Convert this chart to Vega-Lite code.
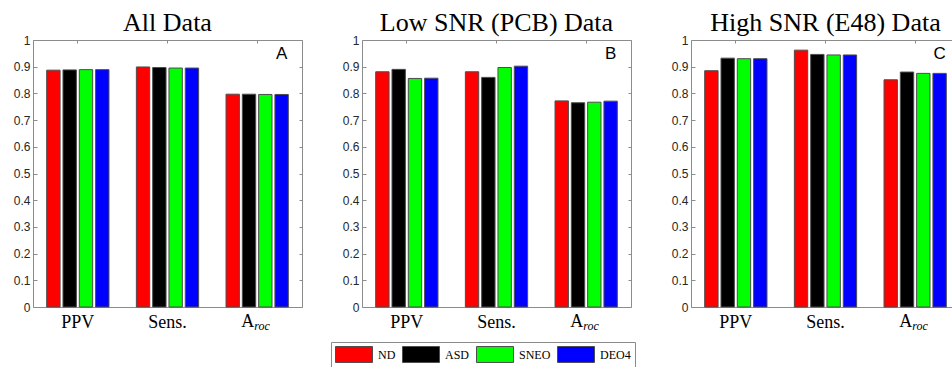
{
  "$schema": "https://vega.github.io/schema/vega-lite/v6.json",
  "padding": {"left": 5, "top": 9, "right": 0, "bottom": 0},
  "background": "white",
  "datasets": {
    "scores": [
      {"panel": "A", "metric": "PPV", "method": "ND", "value": 0.887},
      {"panel": "A", "metric": "PPV", "method": "ASD", "value": 0.888},
      {"panel": "A", "metric": "PPV", "method": "SNEO", "value": 0.889},
      {"panel": "A", "metric": "PPV", "method": "DEO4", "value": 0.889},
      {"panel": "A", "metric": "Sens.", "method": "ND", "value": 0.899},
      {"panel": "A", "metric": "Sens.", "method": "ASD", "value": 0.897},
      {"panel": "A", "metric": "Sens.", "method": "SNEO", "value": 0.895},
      {"panel": "A", "metric": "Sens.", "method": "DEO4", "value": 0.895},
      {"panel": "A", "metric": "Aroc", "method": "ND", "value": 0.797},
      {"panel": "A", "metric": "Aroc", "method": "ASD", "value": 0.797},
      {"panel": "A", "metric": "Aroc", "method": "SNEO", "value": 0.796},
      {"panel": "A", "metric": "Aroc", "method": "DEO4", "value": 0.796},
      {"panel": "B", "metric": "PPV", "method": "ND", "value": 0.881},
      {"panel": "B", "metric": "PPV", "method": "ASD", "value": 0.890},
      {"panel": "B", "metric": "PPV", "method": "SNEO", "value": 0.856},
      {"panel": "B", "metric": "PPV", "method": "DEO4", "value": 0.857},
      {"panel": "B", "metric": "Sens.", "method": "ND", "value": 0.881},
      {"panel": "B", "metric": "Sens.", "method": "ASD", "value": 0.860},
      {"panel": "B", "metric": "Sens.", "method": "SNEO", "value": 0.897},
      {"panel": "B", "metric": "Sens.", "method": "DEO4", "value": 0.902},
      {"panel": "B", "metric": "Aroc", "method": "ND", "value": 0.772},
      {"panel": "B", "metric": "Aroc", "method": "ASD", "value": 0.765},
      {"panel": "B", "metric": "Aroc", "method": "SNEO", "value": 0.767},
      {"panel": "B", "metric": "Aroc", "method": "DEO4", "value": 0.771},
      {"panel": "C", "metric": "PPV", "method": "ND", "value": 0.885},
      {"panel": "C", "metric": "PPV", "method": "ASD", "value": 0.932},
      {"panel": "C", "metric": "PPV", "method": "SNEO", "value": 0.930},
      {"panel": "C", "metric": "PPV", "method": "DEO4", "value": 0.930},
      {"panel": "C", "metric": "Sens.", "method": "ND", "value": 0.962},
      {"panel": "C", "metric": "Sens.", "method": "ASD", "value": 0.946},
      {"panel": "C", "metric": "Sens.", "method": "SNEO", "value": 0.944},
      {"panel": "C", "metric": "Sens.", "method": "DEO4", "value": 0.944},
      {"panel": "C", "metric": "Aroc", "method": "ND", "value": 0.851},
      {"panel": "C", "metric": "Aroc", "method": "ASD", "value": 0.880},
      {"panel": "C", "metric": "Aroc", "method": "SNEO", "value": 0.875},
      {"panel": "C", "metric": "Aroc", "method": "DEO4", "value": 0.875}
    ],
    "panels": [
      {"panel": "A", "letter": "A"},
      {"panel": "B", "letter": "B"},
      {"panel": "C", "letter": "C"}
    ],
    "xlabels": [
      {"metric": "Aroc", "main": "A", "sub": "roc"}
    ]
  },
  "spacing": 31,
  "hconcat": [
    {
      "width": 269,
      "height": 267,
      "title": {"text": "All Data"},
      "layer": [
        {
          "data": {"name": "scores"},
          "transform": [{"filter": "datum.panel === 'A'"}],
          "mark": {"type": "bar", "stroke": "#4d4d4d", "strokeWidth": 1},
          "encoding": {
            "x": {"field": "metric", "type": "nominal", "scale": {"domain": ["PPV", "Sens.", "Aroc"], "paddingInner": 0, "paddingOuter": 0},
              "axis": {"orient": "bottom", "title": null, "ticks": false, "domain": false, "labelAngle": 0, "labelExpr": "datum.value === 'Aroc' ? '' : datum.value", "labelFont": "Liberation Serif, DejaVu Serif, serif", "labelFontSize": 18, "labelPadding": 6, "labelColor": "#000000"}},
            "xOffset": {"field": "method", "type": "nominal", "scale": {"domain": ["ND", "ASD", "SNEO", "DEO4"], "paddingInner": 0.18, "paddingOuter": 0.84}},
            "y": {"field": "value", "type": "quantitative", "scale": {"domain": [0, 1], "nice": false},
              "axis": {"orient": "left", "title": null, "values": [0, 0.1, 0.2, 0.3, 0.4, 0.5, 0.6, 0.7, 0.8, 0.9, 1], "format": "~g", "domain": false, "grid": false, "tickSize": -4, "labelPadding": 7, "minExtent": 27, "maxExtent": 27}},
            "color": {"field": "method", "type": "nominal", "scale": {"domain": ["ND", "ASD", "SNEO", "DEO4"], "range": ["#ff0000", "#000000", "#00ff00", "#0000ff"]}}
          }
        },
        {
          "data": {"name": "panels"},
          "transform": [{"filter": "datum.panel === 'A'"}],
          "mark": {"type": "text", "font": "Liberation Sans", "fontSize": 17, "baseline": "middle", "align": "center", "color": "#000000"},
          "encoding": {
            "x": {"datum": "Aroc", "type": "nominal", "scale": {"domain": ["PPV", "Sens.", "Aroc"]}, "axis": {"orient": "top", "title": null, "labels": false, "domain": false, "tickSize": -3}},
            "xOffset": {"datum": "DEO4", "type": "nominal"},
            "y": {"datum": 0.948, "type": "quantitative", "scale": {"domain": [0, 1]}, "axis": {"orient": "right", "title": null, "labels": false, "domain": false, "grid": false, "tickSize": -3, "values": [0, 0.1, 0.2, 0.3, 0.4, 0.5, 0.6, 0.7, 0.8, 0.9, 1], "minExtent": 0, "maxExtent": 0}},
            "text": {"field": "letter"}
          }
        },
        {
          "data": {"name": "xlabels"},
          "mark": {"type": "text", "font": "Liberation Serif, DejaVu Serif, serif", "fontSize": 18, "align": "right", "baseline": "top", "dx": -3, "dy": 6, "color": "#000000"},
          "encoding": {
            "x": {"field": "metric", "type": "nominal", "scale": {"domain": ["PPV", "Sens.", "Aroc"]}, "axis": null},
            "y": {"datum": 0, "type": "quantitative", "axis": null},
            "text": {"field": "main"}
          }
        },
        {
          "data": {"name": "xlabels"},
          "mark": {"type": "text", "font": "Liberation Serif, DejaVu Serif, serif", "fontSize": 12, "fontStyle": "italic", "align": "left", "baseline": "top", "dx": -3, "dy": 14, "color": "#000000"},
          "encoding": {
            "x": {"field": "metric", "type": "nominal", "scale": {"domain": ["PPV", "Sens.", "Aroc"]}, "axis": null},
            "y": {"datum": 0, "type": "quantitative", "axis": null},
            "text": {"field": "sub"}
          }
        }
      ],
      "resolve": {"axis": {"x": "independent", "y": "independent"}}
    },
    {
      "width": 269,
      "height": 267,
      "title": {"text": "Low SNR (PCB) Data"},
      "layer": [
        {
          "data": {"name": "scores"},
          "transform": [{"filter": "datum.panel === 'B'"}],
          "mark": {"type": "bar", "stroke": "#4d4d4d", "strokeWidth": 1},
          "encoding": {
            "x": {"field": "metric", "type": "nominal", "scale": {"domain": ["PPV", "Sens.", "Aroc"], "paddingInner": 0, "paddingOuter": 0},
              "axis": {"orient": "bottom", "title": null, "ticks": false, "domain": false, "labelAngle": 0, "labelExpr": "datum.value === 'Aroc' ? '' : datum.value", "labelFont": "Liberation Serif, DejaVu Serif, serif", "labelFontSize": 18, "labelPadding": 6, "labelColor": "#000000"}},
            "xOffset": {"field": "method", "type": "nominal", "scale": {"domain": ["ND", "ASD", "SNEO", "DEO4"], "paddingInner": 0.18, "paddingOuter": 0.84}},
            "y": {"field": "value", "type": "quantitative", "scale": {"domain": [0, 1], "nice": false},
              "axis": {"orient": "left", "title": null, "values": [0, 0.1, 0.2, 0.3, 0.4, 0.5, 0.6, 0.7, 0.8, 0.9, 1], "format": "~g", "domain": false, "grid": false, "tickSize": -4, "labelPadding": 7, "minExtent": 27, "maxExtent": 27}},
            "color": {"field": "method", "type": "nominal", "scale": {"domain": ["ND", "ASD", "SNEO", "DEO4"], "range": ["#ff0000", "#000000", "#00ff00", "#0000ff"]}}
          }
        },
        {
          "data": {"name": "panels"},
          "transform": [{"filter": "datum.panel === 'B'"}],
          "mark": {"type": "text", "font": "Liberation Sans", "fontSize": 17, "baseline": "middle", "align": "center", "color": "#000000"},
          "encoding": {
            "x": {"datum": "Aroc", "type": "nominal", "scale": {"domain": ["PPV", "Sens.", "Aroc"]}, "axis": {"orient": "top", "title": null, "labels": false, "domain": false, "tickSize": -3}},
            "xOffset": {"datum": "DEO4", "type": "nominal"},
            "y": {"datum": 0.948, "type": "quantitative", "scale": {"domain": [0, 1]}, "axis": {"orient": "right", "title": null, "labels": false, "domain": false, "grid": false, "tickSize": -3, "values": [0, 0.1, 0.2, 0.3, 0.4, 0.5, 0.6, 0.7, 0.8, 0.9, 1], "minExtent": 0, "maxExtent": 0}},
            "text": {"field": "letter"}
          }
        },
        {
          "data": {"name": "xlabels"},
          "mark": {"type": "text", "font": "Liberation Serif, DejaVu Serif, serif", "fontSize": 18, "align": "right", "baseline": "top", "dx": -3, "dy": 6, "color": "#000000"},
          "encoding": {
            "x": {"field": "metric", "type": "nominal", "scale": {"domain": ["PPV", "Sens.", "Aroc"]}, "axis": null},
            "y": {"datum": 0, "type": "quantitative", "axis": null},
            "text": {"field": "main"}
          }
        },
        {
          "data": {"name": "xlabels"},
          "mark": {"type": "text", "font": "Liberation Serif, DejaVu Serif, serif", "fontSize": 12, "fontStyle": "italic", "align": "left", "baseline": "top", "dx": -3, "dy": 14, "color": "#000000"},
          "encoding": {
            "x": {"field": "metric", "type": "nominal", "scale": {"domain": ["PPV", "Sens.", "Aroc"]}, "axis": null},
            "y": {"datum": 0, "type": "quantitative", "axis": null},
            "text": {"field": "sub"}
          }
        }
      ],
      "resolve": {"axis": {"x": "independent", "y": "independent"}}
    },
    {
      "width": 269,
      "height": 267,
      "title": {"text": "High SNR (E48) Data"},
      "layer": [
        {
          "data": {"name": "scores"},
          "transform": [{"filter": "datum.panel === 'C'"}],
          "mark": {"type": "bar", "stroke": "#4d4d4d", "strokeWidth": 1},
          "encoding": {
            "x": {"field": "metric", "type": "nominal", "scale": {"domain": ["PPV", "Sens.", "Aroc"], "paddingInner": 0, "paddingOuter": 0},
              "axis": {"orient": "bottom", "title": null, "ticks": false, "domain": false, "labelAngle": 0, "labelExpr": "datum.value === 'Aroc' ? '' : datum.value", "labelFont": "Liberation Serif, DejaVu Serif, serif", "labelFontSize": 18, "labelPadding": 6, "labelColor": "#000000"}},
            "xOffset": {"field": "method", "type": "nominal", "scale": {"domain": ["ND", "ASD", "SNEO", "DEO4"], "paddingInner": 0.18, "paddingOuter": 0.84}},
            "y": {"field": "value", "type": "quantitative", "scale": {"domain": [0, 1], "nice": false},
              "axis": {"orient": "left", "title": null, "values": [0, 0.1, 0.2, 0.3, 0.4, 0.5, 0.6, 0.7, 0.8, 0.9, 1], "format": "~g", "domain": false, "grid": false, "tickSize": -4, "labelPadding": 7, "minExtent": 27, "maxExtent": 27}},
            "color": {"field": "method", "type": "nominal", "scale": {"domain": ["ND", "ASD", "SNEO", "DEO4"], "range": ["#ff0000", "#000000", "#00ff00", "#0000ff"]}}
          }
        },
        {
          "data": {"name": "panels"},
          "transform": [{"filter": "datum.panel === 'C'"}],
          "mark": {"type": "text", "font": "Liberation Sans", "fontSize": 17, "baseline": "middle", "align": "center", "color": "#000000"},
          "encoding": {
            "x": {"datum": "Aroc", "type": "nominal", "scale": {"domain": ["PPV", "Sens.", "Aroc"]}, "axis": {"orient": "top", "title": null, "labels": false, "domain": false, "tickSize": -3}},
            "xOffset": {"datum": "DEO4", "type": "nominal"},
            "y": {"datum": 0.948, "type": "quantitative", "scale": {"domain": [0, 1]}, "axis": {"orient": "right", "title": null, "labels": false, "domain": false, "grid": false, "tickSize": -3, "values": [0, 0.1, 0.2, 0.3, 0.4, 0.5, 0.6, 0.7, 0.8, 0.9, 1], "minExtent": 0, "maxExtent": 0}},
            "text": {"field": "letter"}
          }
        },
        {
          "data": {"name": "xlabels"},
          "mark": {"type": "text", "font": "Liberation Serif, DejaVu Serif, serif", "fontSize": 18, "align": "right", "baseline": "top", "dx": -3, "dy": 6, "color": "#000000"},
          "encoding": {
            "x": {"field": "metric", "type": "nominal", "scale": {"domain": ["PPV", "Sens.", "Aroc"]}, "axis": null},
            "y": {"datum": 0, "type": "quantitative", "axis": null},
            "text": {"field": "main"}
          }
        },
        {
          "data": {"name": "xlabels"},
          "mark": {"type": "text", "font": "Liberation Serif, DejaVu Serif, serif", "fontSize": 12, "fontStyle": "italic", "align": "left", "baseline": "top", "dx": -3, "dy": 14, "color": "#000000"},
          "encoding": {
            "x": {"field": "metric", "type": "nominal", "scale": {"domain": ["PPV", "Sens.", "Aroc"]}, "axis": null},
            "y": {"datum": 0, "type": "quantitative", "axis": null},
            "text": {"field": "sub"}
          }
        }
      ],
      "resolve": {"axis": {"x": "independent", "y": "independent"}}
    }
  ],
  "config": {
    "view": {"stroke": "#8c8c8c", "strokeWidth": 1},
    "axis": {"tickColor": "#8c8c8c", "labelColor": "#262626", "labelFont": "Liberation Sans", "labelFontSize": 12, "grid": false},
    "title": {"font": "Liberation Serif, DejaVu Serif, serif", "fontSize": 26, "fontWeight": "normal", "color": "#000000", "baseline": "alphabetic", "offset": -2},
    "legend": {
      "orient": "none",
      "legendX": 298,
      "legendY": 302,
      "direction": "horizontal",
      "title": null,
      "strokeColor": "#8c8c8c",
      "fillColor": "#ffffff",
      "padding": 4,
      "clipHeight": 17,
      "symbolType": "M-1,-0.43H1V0.43H-1Z",
      "symbolSize": 1369,
      "symbolStrokeColor": "#4d4d4d",
      "symbolStrokeWidth": 1,
      "symbolOpacity": 1,
      "labelFont": "Liberation Serif, DejaVu Serif, serif",
      "labelFontSize": 12,
      "labelColor": "#000000",
      "labelOffset": 5,
      "columnPadding": 6
    }
  }
}
